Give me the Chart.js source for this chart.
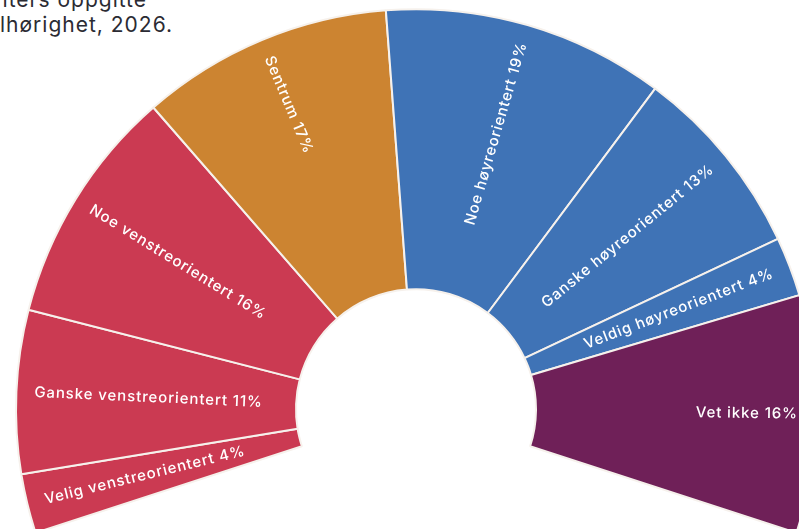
<!DOCTYPE html>
<html>
<head>
<meta charset="utf-8">
<script src="https://cdn.jsdelivr.net/npm/chart.js@4"></script>
<style>
  html, body { margin: 0; padding: 0; background: #fff; }
  .wrap { position: relative; width: 799px; height: 529px; overflow: hidden; }
  .title { position: absolute; white-space: nowrap; text-align: right; font: 21px Inter, sans-serif; letter-spacing: 1px; color: #2b2b33; }
  canvas { position: absolute; left: 0; top: 0; }
</style>
</head>
<body>
<div class="wrap">
  <div class="title" style="right:652px; top:-13px;">Andel respondenters oppgitte</div>
  <div class="title" style="right:626px; top:12px;">politisk tilhørighet, 2026.</div>
  <canvas id="chart" width="799" height="529"></canvas>
</div>
<script>
const labels = [
  'Velig venstreorientert', 'Ganske venstreorientert', 'Noe venstreorientert', 'Sentrum',
  'Noe høyreorientert', 'Ganske høyreorientert', 'Veldig høyreorientert', 'Vet ikke',
];
const shares = [4, 11, 16, 17, 19, 13, 4, 16];
const colors = ['#cb3a52', '#cb3a52', '#cb3a52', '#cc8431', '#3f73b6', '#3f73b6', '#3f73b6', '#6f2058'];

// labels along the radius, outer end just inside the rim
const sliceLabels = {
  id: 'sliceLabels',
  afterDatasetsDraw(chart) {
    const ctx = chart.ctx;
    const arcs = chart.getDatasetMeta(0).data;
    ctx.save();
    ctx.font = '500 15px Inter, sans-serif';
    ctx.letterSpacing = '0.9px';
    ctx.fillStyle = '#fff';
    ctx.textBaseline = 'middle';
    arcs.forEach((arc, i) => {
      const p = arc.getProps(['x', 'y', 'startAngle', 'endAngle', 'outerRadius'], true);
      const mid = (p.startAngle + p.endAngle) / 2;
      const r = p.outerRadius - 18;
      const right = Math.cos(mid) >= 0;
      ctx.save();
      ctx.translate(p.x + Math.cos(mid) * r, p.y + Math.sin(mid) * r);
      ctx.rotate(right ? mid : mid + Math.PI);
      ctx.textAlign = right ? 'right' : 'left';
      ctx.fillText(`${labels[i]} ${shares[i]}%`, 0, 0);
      ctx.restore();
    });
    ctx.restore();
  },
};

new Chart(document.getElementById('chart'), {
  type: 'doughnut',
  data: {
    labels,
    datasets: [{ data: shares, backgroundColor: colors, borderColor: '#f6f1ec', borderWidth: 2 }],
  },
  options: {
    responsive: false, animation: false,
    rotation: -108, circumference: 216,
    radius: 400, cutout: '30%',
    layout: { padding: { left: 33, top: 13 } },
    plugins: { legend: { display: false }, tooltip: { enabled: false } },
  },
  plugins: [sliceLabels],
});
</script>
</body>
</html>
